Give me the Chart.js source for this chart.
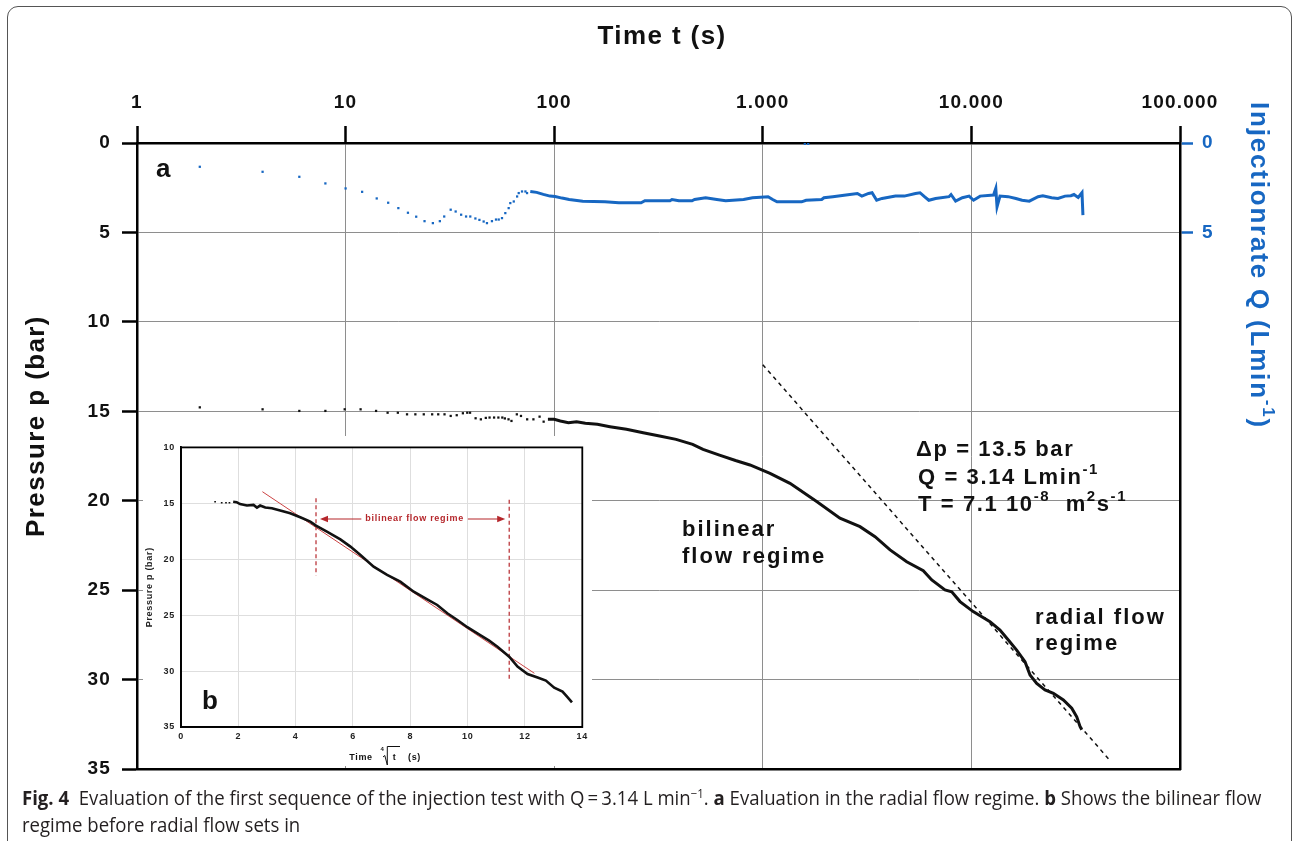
<!DOCTYPE html>
<html>
<head>
<meta charset="utf-8">
<script src="https://cdn.jsdelivr.net/npm/chart.js@4.4.0/dist/chart.umd.min.js"></script>
<style>
html, body { margin: 0; padding: 0; background: #fff; }
body { width: 1293px; height: 841px; position: relative; overflow: hidden; font-family: "Liberation Sans", Arial, sans-serif; }
#frame { position: absolute; left: 7px; top: 6px; width: 1285px; height: 870px; border: 1.5px solid #555; border-radius: 11px; box-sizing: border-box; }
#mainChart { position: absolute; left: 0; top: 0; }
#insetChart { position: absolute; left: 143px; top: 436px; background: #fff; }
.cap { position: absolute; left: 22px; font-family: "Open Sans", "Noto Sans", sans-serif; font-size: 19.5px; line-height: 24px; color: #231f20; white-space: nowrap; transform-origin: 0 50%; }
.cap sup { font-size: 12px; line-height: 0; vertical-align: 7px; }
</style>
</head>
<body>
<div id="frame"></div>
<canvas id="mainChart" width="1293" height="841"></canvas>
<canvas id="insetChart" width="449" height="330"></canvas>
<div class="cap" id="cap1" style="top:786px"><b>Fig. 4</b>&nbsp; Evaluation of the first sequence of the injection test with Q&#8201;=&#8201;3.14 L min<sup>&minus;1</sup>. <b>a</b> Evaluation in the radial flow regime. <b>b</b> Shows the bilinear flow</div>
<div class="cap" id="cap2" style="top:813px">regime before radial flow sets in</div>
<script>
// top axis (time, log) and the two y axes
const timeTicks = [1, 10, 100, 1000, 10000, 100000];
const timeTickLabels = ['1', '10', '100', '1.000', '10.000', '100.000'];
const rateTicks = [0, 5];

// injection rate Q, sparse dots at the start
const qDotTime = [2.0, 4.0, 6.0, 8.0, 10, 12, 14.1, 16, 17.9, 19.9, 21.8, 23.9, 26.2, 28.3, 29.7, 31.9, 33.7, 35.8, 37.8, 39.6, 41.9, 43.8, 45.9, 47.6, 50.3, 52.6, 54.2, 56.2, 58.3, 60.5, 61.6, 64.0, 66.4, 67.6, 70.1, 72.8, 74.1, 1590, 1650];
const qDotRate = [1.33, 1.61, 1.89, 2.26, 2.54, 2.73, 3.10, 3.34, 3.64, 3.90, 4.12, 4.37, 4.48, 4.37, 4.11, 3.73, 3.83, 4.01, 4.11, 4.11, 4.22, 4.30, 4.39, 4.48, 4.37, 4.28, 4.28, 4.20, 3.92, 3.64, 3.36, 3.27, 2.99, 2.80, 2.71, 2.71, 2.80, 0.05, 0.05];
// injection rate Q, dense part
const qLineTime = [76.8, 82.4, 88.7, 95.5, 101, 109, 118, 137, 175, 204, 261, 272, 359, 367, 396, 458, 471, 532, 602, 664, 809, 893, 1060, 1115, 1170, 1535, 1612, 1916, 1965, 2167, 2505, 2840, 2985, 3214, 3340, 3514, 3731, 4325, 4769, 5393, 5670, 5956, 6250, 6733, 7810, 7986, 8400, 9050, 9746, 10240, 11010, 12770, 13090, 13270, 13710, 15000, 16340, 17500, 18950, 20880, 22000, 24230, 26000, 28110, 30000, 31030, 32500, 33900, 34250];
const qLineRate = [2.71, 2.76, 2.87, 2.97, 2.99, 3.08, 3.16, 3.25, 3.29, 3.34, 3.34, 3.23, 3.23, 3.16, 3.23, 3.23, 3.16, 3.06, 3.16, 3.23, 3.16, 3.06, 3.0, 3.16, 3.29, 3.29, 3.2, 3.16, 3.06, 3.0, 2.91, 2.82, 2.97, 2.82, 2.78, 3.2, 3.1, 2.97, 2.97, 2.82, 2.78, 3.0, 3.2, 3.1, 3.0, 2.88, 3.25, 3.06, 2.97, 3.2, 2.97, 2.91, 2.54, 3.57, 2.97, 3.0, 3.1, 3.2, 3.25, 3.0, 2.95, 3.06, 3.1, 2.97, 2.95, 2.88, 3.05, 2.78, 4.03];

// pressure p
const pDotTime = [2.0, 4.0, 6.0, 8.0, 9.9, 11.8, 14.0, 15.9, 17.8, 19.7, 21.6, 23.7, 26.0, 27.8, 29.8, 31.9, 34.1, 36.5, 38.3, 39.5, 42.0, 44.5, 47.0, 49.0, 51.5, 54.0, 56.4, 58.0, 60.4, 62.4, 66.2, 69.3, 74.2, 79.5, 85.1, 89.0];
const pDotPress = [14.78, 14.89, 14.98, 14.98, 14.89, 14.89, 14.98, 15.08, 15.08, 15.17, 15.17, 15.17, 15.17, 15.17, 15.17, 15.26, 15.22, 15.11, 15.08, 15.08, 15.39, 15.45, 15.37, 15.35, 15.35, 15.35, 15.35, 15.4, 15.45, 15.54, 15.17, 15.26, 15.45, 15.45, 15.30, 15.58];
const pLineTime = [93.3, 100, 107, 117, 128, 141, 161, 185, 222, 267, 320, 384, 461, 517, 620, 740, 868, 1083, 1350, 1812, 2343, 2924, 3452, 4075, 4897, 5880, 6455, 7470, 8050, 8820, 10200, 12280, 13710, 15030, 16480, 18070, 19100, 20560, 22540, 24720, 27600, 30270, 31990, 33200, 33820];
const pLinePress = [15.45, 15.45, 15.54, 15.64, 15.58, 15.67, 15.73, 15.86, 16.01, 16.2, 16.38, 16.57, 16.85, 17.13, 17.45, 17.75, 18.0, 18.47, 19.03, 20.05, 20.98, 21.45, 22.01, 22.75, 23.41, 23.91, 24.43, 24.99, 25.09, 25.64, 26.2, 26.76, 27.23, 27.79, 28.35, 29.0, 29.74, 30.21, 30.58, 30.77, 31.14, 31.6, 32.08, 32.63, 32.8];

// radial flow straight line
const fitTime = [1000, 46000];
const fitPress = [12.4, 34.5];

// inset b : p against fourth root of t
const insetDotRoot = [1.19, 1.42, 1.57, 1.69];
const insetDotPress = [14.86, 14.95, 14.95, 14.95];
const insetRoot = [1.82, 1.94, 2.06, 2.3, 2.53, 2.65, 2.76, 2.94, 3.17, 3.46, 3.81, 4.16, 4.51, 4.71, 5.09, 5.56, 5.91, 6.26, 6.72, 7.19, 7.65, 8.12, 8.59, 8.94, 9.29, 9.64, 9.99, 10.34, 10.75, 11.04, 11.45, 11.74, 12.09, 12.44, 12.73, 13.02, 13.31, 13.49, 13.64];
const insetPress = [14.86, 14.9, 15.07, 15.2, 15.14, 15.38, 15.2, 15.38, 15.44, 15.65, 15.89, 16.25, 16.64, 17.0, 17.53, 18.22, 18.87, 19.62, 20.66, 21.4, 22.0, 22.9, 23.58, 24.09, 24.83, 25.43, 26.08, 26.62, 27.28, 27.82, 28.71, 29.6, 30.26, 30.58, 30.85, 31.48, 31.84, 32.35, 32.8];
const tangentRoot = [2.84, 12.33];
const tangentPress = [13.96, 30.2];
const regimeStart = 4.71, regimeEnd = 11.45;
const regimeStartPress = [14.55, 21.45];
const regimeEndPress = [14.67, 30.9];
const regimeLabelPress = 16.4;

const blue = '#1767c2';
const red = '#b5262b';
const FONT = '"Liberation Sans", Arial, sans-serif';

function pairs(xs, ys) {
  return xs.map(function(x, i) { return {x: x, y: ys[i]}; });
}

// draws bold text with raised pieces, parts = [[text, isSup]]
function drawRich(ctx, parts, x, y, size) {
  ctx.textBaseline = 'middle';
  ctx.textAlign = 'left';
  parts.forEach(function(p) {
    let fs = p[1] ? Math.round(size * 0.66) : size;
    ctx.font = 'bold ' + fs + 'px ' + FONT;
    ctx.fillText(p[0], x, p[1] ? y - size * 0.36 : y);
    x += ctx.measureText(p[0]).width;
  });
  return x;
}
function richWidth(ctx, parts, size) {
  let w = 0;
  parts.forEach(function(p) {
    ctx.font = 'bold ' + (p[1] ? Math.round(size * 0.66) : size) + 'px ' + FONT;
    w += ctx.measureText(p[0]).width;
  });
  return w;
}

let spacing = function(px) {
  return {
    id: 'spacing',
    beforeUpdate: function(chart) { chart.ctx.letterSpacing = px; },
    beforeDraw: function(chart) { chart.ctx.letterSpacing = px; }
  };
};

let mainText = {
  id: 'mainText',
  afterDraw: function(chart) {
    const ctx = chart.ctx;
    ctx.save();
    ctx.letterSpacing = '1.6px';
    ctx.fillStyle = '#111';
    drawRich(ctx, [['\u0394p = 13.5 bar']], 916, 450, 22);
    drawRich(ctx, [['Q = 3.14 Lmin'], ['-1', 1]], 918, 478, 22);
    drawRich(ctx, [['T = 7.1 10'], ['-8', 1], ['  m'], ['2', 1], ['s'], ['-1', 1]], 918, 505, 22);
    ctx.letterSpacing = '2px';
    drawRich(ctx, [['bilinear']], 682, 530, 22);
    drawRich(ctx, [['flow regime']], 682, 557, 22);
    drawRich(ctx, [['radial flow']], 1035, 618, 22);
    drawRich(ctx, [['regime']], 1035, 644, 22);
    ctx.letterSpacing = '0px';
    drawRich(ctx, [['a']], 156, 170, 26);

    // axis titles
    ctx.letterSpacing = '1.4px';
    let t = [['Time t (s)']];
    drawRich(ctx, t, 662 - richWidth(ctx, t, 26) / 2, 37, 26);
    let p = [['Pressure p (bar)']];
    ctx.save();
    ctx.translate(37, 426);
    ctx.rotate(-Math.PI / 2);
    drawRich(ctx, p, -richWidth(ctx, p, 26) / 2, 0, 26);
    ctx.restore();
    ctx.save();
    ctx.fillStyle = blue;
    ctx.letterSpacing = '1.8px';
    ctx.translate(1258, 102);
    ctx.rotate(Math.PI / 2);
    drawRich(ctx, [['Injectionrate Q (Lmin'], ['-1', 1], [')']], 0, 0, 26);
    ctx.restore();
    ctx.restore();
  }
};

const tickFont = { family: FONT, size: 19, weight: 'bold' };

new Chart(document.getElementById('mainChart'), {
  type: 'scatter',
  data: {
    datasets: [
      { data: pairs(qDotTime, qDotRate), yAxisID: 'y2', pointStyle: 'rect', pointRadius: 1.6, backgroundColor: blue, borderWidth: 0 },
      { data: pairs(qLineTime, qLineRate), yAxisID: 'y2', showLine: true, borderColor: blue, borderWidth: 3, pointRadius: 0 },
      { data: pairs(pDotTime, pDotPress), yAxisID: 'y', pointStyle: 'rect', pointRadius: 1.6, backgroundColor: '#111', borderWidth: 0 },
      { data: pairs(pLineTime, pLinePress), yAxisID: 'y', showLine: true, borderColor: '#111', borderWidth: 3, pointRadius: 0 },
      { data: pairs(fitTime, fitPress), yAxisID: 'y', showLine: true, borderColor: '#111', borderWidth: 1.5, borderDash: [4, 4], pointRadius: 0 }
    ]
  },
  options: {
    responsive: false,
    animation: false,
    layout: { padding: { left: 0, right: 0, top: 0, bottom: 72 } },
    plugins: { legend: { display: false }, tooltip: { enabled: false } },
    scales: {
      x: {
        type: 'logarithmic', position: 'top', min: 1, max: 100000,
        afterBuildTicks: function(axis) { axis.ticks = timeTicks.map(function(v) { return {value: v}; }); },
        afterFit: function(axis) { axis.height = 143; },
        ticks: { callback: function(v, i) { return timeTickLabels[i]; }, font: tickFont, color: '#111', padding: 12, autoSkip: false, maxRotation: 0 },
        grid: { color: '#8e8e8e', lineWidth: 1, tickLength: 17, tickColor: '#000', tickWidth: 2.5 },
        border: { color: '#000', width: 2.5 }
      },
      x2: {
        type: 'logarithmic', position: 'bottom', min: 1, max: 100000,
        afterFit: function(axis) { axis.height = 0; },
        ticks: { display: false },
        grid: { drawOnChartArea: false, drawTicks: false },
        border: { color: '#000', width: 2.5 }
      },
      y: {
        type: 'linear', position: 'left', min: 0, max: 35, reverse: true,
        afterFit: function(axis) { axis.width = 137; },
        ticks: { stepSize: 5, font: tickFont, color: '#111', padding: 11 },
        grid: { color: '#8e8e8e', lineWidth: 1, tickLength: 15, tickColor: '#000', tickWidth: 2.5 },
        border: { color: '#000', width: 2.5 }
      },
      y2: {
        type: 'linear', position: 'right', min: 0, max: 35, reverse: true,
        afterBuildTicks: function(axis) { axis.ticks = rateTicks.map(function(v) { return {value: v}; }); },
        afterFit: function(axis) { axis.width = 113; },
        ticks: { font: tickFont, color: blue, padding: 9 },
        grid: { drawOnChartArea: false, tickLength: 13, tickColor: blue, tickWidth: 2.5 },
        border: { color: '#000', width: 2.5 }
      }
    }
  },
  plugins: [spacing('1.2px'), mainText]
});

function arrow(ctx, x1, y, x2) {
  let d = x2 > x1 ? 1 : -1;
  ctx.beginPath();
  ctx.moveTo(x1, y);
  ctx.lineTo(x2 - d * 6, y);
  ctx.stroke();
  ctx.beginPath();
  ctx.moveTo(x2, y);
  ctx.lineTo(x2 - d * 8, y - 3.2);
  ctx.lineTo(x2 - d * 8, y + 3.2);
  ctx.closePath();
  ctx.fill();
}

let insetText = {
  id: 'insetText',
  afterDraw: function(chart) {
    const ctx = chart.ctx;
    const a = chart.chartArea;
    const xs = chart.scales.x, ys = chart.scales.y;
    ctx.save();
    ctx.strokeStyle = '#000';
    ctx.lineWidth = 1.8;
    ctx.strokeRect(a.left, a.top, a.right - a.left, a.bottom - a.top);

    // regime label with arrows
    ctx.letterSpacing = '0.7px';
    ctx.fillStyle = red;
    ctx.strokeStyle = red;
    ctx.lineWidth = 1.2;
    ctx.font = 'bold 9px ' + FONT;
    let label = 'bilinear flow regime';
    let w = ctx.measureText(label).width;
    let ly = ys.getPixelForValue(regimeLabelPress);
    let x0 = xs.getPixelForValue(regimeStart), x1 = xs.getPixelForValue(regimeEnd);
    let cx = (x0 + x1) / 2 + 2;
    ctx.textAlign = 'center';
    ctx.textBaseline = 'middle';
    ctx.fillText(label, cx, ly);
    arrow(ctx, cx - w / 2 - 4, ly, x0 + 4);
    arrow(ctx, cx + w / 2 + 4, ly, x1 - 4);

    // x title: Time, fourth root of t, (s)
    ctx.fillStyle = '#111';
    ctx.strokeStyle = '#111';
    ctx.fillText('Time', 218, 321.5);
    ctx.font = 'bold 6px ' + FONT;
    ctx.fillText('4', 239.5, 313);
    ctx.lineWidth = 1;
    ctx.beginPath();
    ctx.moveTo(240, 321);
    ctx.lineTo(241.8, 319.5);
    ctx.lineTo(244.3, 329);
    ctx.lineTo(244.3, 310.5);
    ctx.lineTo(257, 310.5);
    ctx.stroke();
    ctx.font = 'bold 9px ' + FONT;
    ctx.fillText('t', 251.5, 321.5);
    ctx.fillText('(s)', 271.5, 321.5);

    ctx.letterSpacing = '0px';
    ctx.textAlign = 'left';
    ctx.font = 'bold 26px ' + FONT;
    ctx.fillText('b', 59, 266);
    ctx.restore();
  }
};

const insetFont = { family: FONT, size: 9, weight: 'bold' };

new Chart(document.getElementById('insetChart'), {
  type: 'scatter',
  data: {
    datasets: [
      { data: pairs(insetDotRoot, insetDotPress), pointStyle: 'rect', pointRadius: 1.2, backgroundColor: '#111', borderWidth: 0 },
      { data: pairs(insetRoot, insetPress), showLine: true, borderColor: '#111', borderWidth: 2.6, pointRadius: 0 },
      { data: pairs(tangentRoot, tangentPress), showLine: true, borderColor: '#cc4444', borderWidth: 1, pointRadius: 0 },
      { data: pairs([regimeStart, regimeStart], regimeStartPress), showLine: true, borderColor: red, borderWidth: 1.2, borderDash: [4, 3], pointRadius: 0 },
      { data: pairs([regimeEnd, regimeEnd], regimeEndPress), showLine: true, borderColor: red, borderWidth: 1.2, borderDash: [4, 3], pointRadius: 0 }
    ]
  },
  options: {
    responsive: false,
    animation: false,
    layout: { padding: { left: 0, right: 0, top: 0, bottom: 0 } },
    plugins: { legend: { display: false }, tooltip: { enabled: false } },
    scales: {
      x: {
        type: 'linear', min: 0, max: 14,
        afterFit: function(axis) { axis.height = 39; },
        ticks: { stepSize: 2, font: insetFont, color: '#222', padding: 4, maxRotation: 0 },
        grid: { color: '#dedede', lineWidth: 1, drawTicks: false },
        border: { color: '#000', width: 1.8 }
      },
      y: {
        type: 'linear', min: 10, max: 35, reverse: true,
        afterFit: function(axis) { axis.width = 38; },
        ticks: { stepSize: 5, font: insetFont, color: '#222', padding: 6 },
        grid: { color: '#dedede', lineWidth: 1, drawTicks: false },
        border: { color: '#000', width: 1.8 },
        title: { display: true, text: 'Pressure p (bar)', font: insetFont, color: '#222', padding: { top: 1.5, bottom: 0 } }
      }
    }
  },
  plugins: [spacing('0.7px'), insetText]
});

// squeeze the caption to the width of the figure text block
let cap1 = document.getElementById('cap1');
let cap2 = document.getElementById('cap2');
let k = 1240 / cap1.scrollWidth;
cap1.style.transform = 'scaleX(' + k + ')';
cap2.style.transform = 'scaleX(' + k + ')';
</script>
</body>
</html>
